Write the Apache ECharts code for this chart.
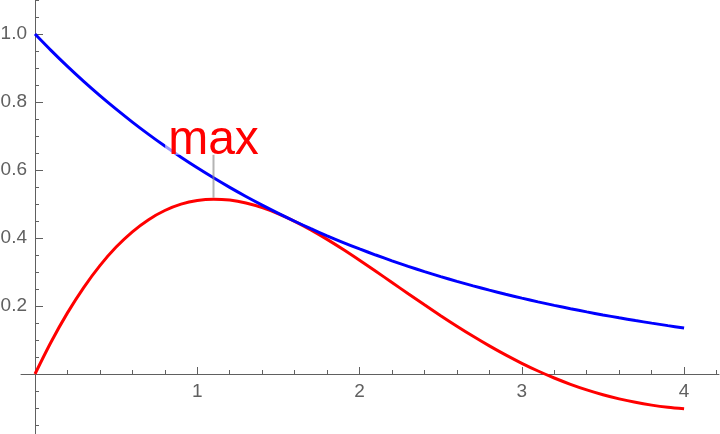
<!DOCTYPE html>
<html lang="en">
<head>
<meta charset="UTF-8">
<title>decay vs damped sine</title>
<script src="https://cdn.jsdelivr.net/npm/echarts@6/dist/echarts.min.js"></script>
<style>
    body {
        margin: 0;
        padding: 0;
        overflow: hidden;
        background: #fff;
    }
    #main {
        width: 720px;
        height: 434px;
    }
</style>
</head>
<body>
<div id="main"></div>
<script>
    // x samples read along the horizontal axis
    var xs = [0, 0.1, 0.2, 0.3, 0.4, 0.5, 0.6, 0.7, 0.8, 0.9,
        1, 1.1, 1.2, 1.3, 1.4, 1.5, 1.6, 1.7, 1.8, 1.9,
        2, 2.1, 2.2, 2.3, 2.4, 2.5, 2.6, 2.7, 2.8, 2.9,
        3, 3.1, 3.2, 3.3, 3.4, 3.5, 3.6, 3.7, 3.8, 3.9, 4];
    // blue curve
    var decay = [1.0000, 0.9512, 0.9048, 0.8607, 0.8187, 0.7788, 0.7408, 0.7047, 0.6703, 0.6376,
        0.6065, 0.5770, 0.5488, 0.5220, 0.4966, 0.4724, 0.4493, 0.4274, 0.4066, 0.3867,
        0.3679, 0.3499, 0.3329, 0.3166, 0.3012, 0.2865, 0.2725, 0.2592, 0.2466, 0.2346,
        0.2231, 0.2122, 0.2019, 0.1920, 0.1827, 0.1738, 0.1653, 0.1572, 0.1496, 0.1423, 0.1353];
    // red curve
    var damped = [0, 0.0949, 0.1798, 0.2543, 0.3188, 0.3734, 0.4183, 0.4540, 0.4809, 0.4995,
        0.5104, 0.5142, 0.5115, 0.5030, 0.4893, 0.4712, 0.4491, 0.4239, 0.3959, 0.3660,
        0.3345, 0.3021, 0.2691, 0.2361, 0.2035, 0.1715, 0.1405, 0.1108, 0.0826, 0.0561,
        0.0315, 0.0088, -0.0118, -0.0303, -0.0467, -0.0610, -0.0731, -0.0833, -0.0915, -0.0979, -0.1024];
    var xTickLabels = ['1', '2', '3', '4'];
    var yTickLabels = ['0.2', '0.4', '0.6', '0.8', '1.0'];

    var axisGray = '#606060';
    var font = '"Liberation Sans", Arial, sans-serif';

    function pairs(ys) {
        return xs.map(function(x, i) {
            return [x, ys[i]];
        });
    }

    var app = echarts.init(document.getElementById('main'));

    var option = {
        animation: false,
        grid: [{
            // upper part of the plot (y >= 0), its bottom edge is the x axis
            left: 35,
            right: -29,
            top: -34,
            bottom: 60,
            outerBoundsMode: 'none'
        }, {
            // part below the x axis, only the y axis ticks live here
            left: 35,
            right: -29,
            top: 374,
            bottom: -8,
            outerBoundsMode: 'none'
        }, {
            // only carries the visible x axis line
            left: 21,
            right: 1,
            top: -34,
            bottom: 60,
            outerBoundsMode: 'none'
        }],
        xAxis: [{
            type: 'value',
            gridIndex: 0,
            position: 'bottom',
            min: 0,
            max: 4.4,
            interval: 1,
            axisLine: {
                show: true,
                onZero: false,
                lineStyle: { color: 'rgba(0,0,0,0)' }
            },
            axisTick: {
                show: true,
                inside: true,
                length: 7,
                lineStyle: { color: axisGray, width: 1 }
            },
            minorTick: {
                show: true,
                splitNumber: 5,
                length: 4,
                lineStyle: { color: axisGray, width: 1 }
            },
            axisLabel: {
                show: true,
                color: axisGray,
                fontSize: 19,
                fontFamily: font,
                margin: 8,
                formatter: function(v) {
                    var s = String(Math.round(v * 10) / 10);
                    return xTickLabels.indexOf(s) >= 0 ? s : '';
                }
            },
            splitLine: { show: false }
        }, {
            type: 'value',
            gridIndex: 1,
            min: 0,
            max: 4.4,
            show: false
        }, {
            type: 'value',
            gridIndex: 2,
            position: 'bottom',
            min: 0,
            max: 1,
            axisLine: {
                show: true,
                onZero: false,
                lineStyle: { color: axisGray, width: 1 }
            },
            axisTick: { show: false },
            axisLabel: { show: false },
            splitLine: { show: false }
        }],
        yAxis: [{
            type: 'value',
            gridIndex: 0,
            position: 'left',
            min: 0,
            max: 1.2,
            interval: 0.2,
            axisLine: {
                show: true,
                onZero: false,
                lineStyle: { color: axisGray, width: 1 }
            },
            axisTick: {
                show: true,
                inside: true,
                length: 8,
                lineStyle: { color: axisGray, width: 1 }
            },
            minorTick: {
                show: true,
                splitNumber: 4,
                length: 4,
                lineStyle: { color: axisGray, width: 1 }
            },
            axisLabel: {
                color: axisGray,
                fontSize: 19,
                fontFamily: font,
                margin: 8,
                formatter: function(v) {
                    var s = v.toFixed(1);
                    return yTickLabels.indexOf(s) >= 0 ? s : '';
                }
            },
            splitLine: { show: false }
        }, {
            type: 'value',
            gridIndex: 1,
            position: 'left',
            min: -0.2,
            max: 0,
            interval: 0.2,
            axisLine: {
                show: true,
                onZero: false,
                lineStyle: { color: axisGray, width: 1 }
            },
            axisTick: {
                show: true,
                inside: true,
                length: 8,
                lineStyle: { color: axisGray, width: 1 }
            },
            minorTick: {
                show: true,
                splitNumber: 4,
                length: 4,
                lineStyle: { color: axisGray, width: 1 }
            },
            axisLabel: { show: false },
            splitLine: { show: false }
        }, {
            type: 'value',
            gridIndex: 2,
            min: 0,
            max: 1.2,
            show: false
        }],
        series: [{
            name: 'damped',
            type: 'line',
            xAxisIndex: 0,
            yAxisIndex: 0,
            clip: false,
            smooth: 0.3,
            showSymbol: false,
            lineStyle: { color: '#ff0000', width: 3 },
            itemStyle: { color: '#ff0000' },
            data: pairs(damped),
            markPoint: {
                symbol: 'rect',
                symbolSize: [2, 43],
                symbolOffset: [0, -23],
                itemStyle: { color: 'rgba(140,140,140,0.65)' },
                label: {
                    show: true,
                    position: 'top',
                    distance: 0,
                    formatter: 'max',
                    color: '#ff0000',
                    fontSize: 48,
                    lineHeight: 28,
                    fontFamily: font,
                    backgroundColor: 'rgba(255,255,255,0.6)',
                    padding: [0, 3, 0, 3]
                },
                emphasis: { disabled: true },
                data: [{ type: 'max', name: 'max' }]
            }
        }, {
            name: 'decay',
            type: 'line',
            xAxisIndex: 0,
            yAxisIndex: 0,
            clip: false,
            smooth: 0.3,
            showSymbol: false,
            lineStyle: { color: '#0000ff', width: 3 },
            itemStyle: { color: '#0000ff' },
            data: pairs(decay)
        }]
    };
    app.setOption(option);
</script>
</body>
</html>
